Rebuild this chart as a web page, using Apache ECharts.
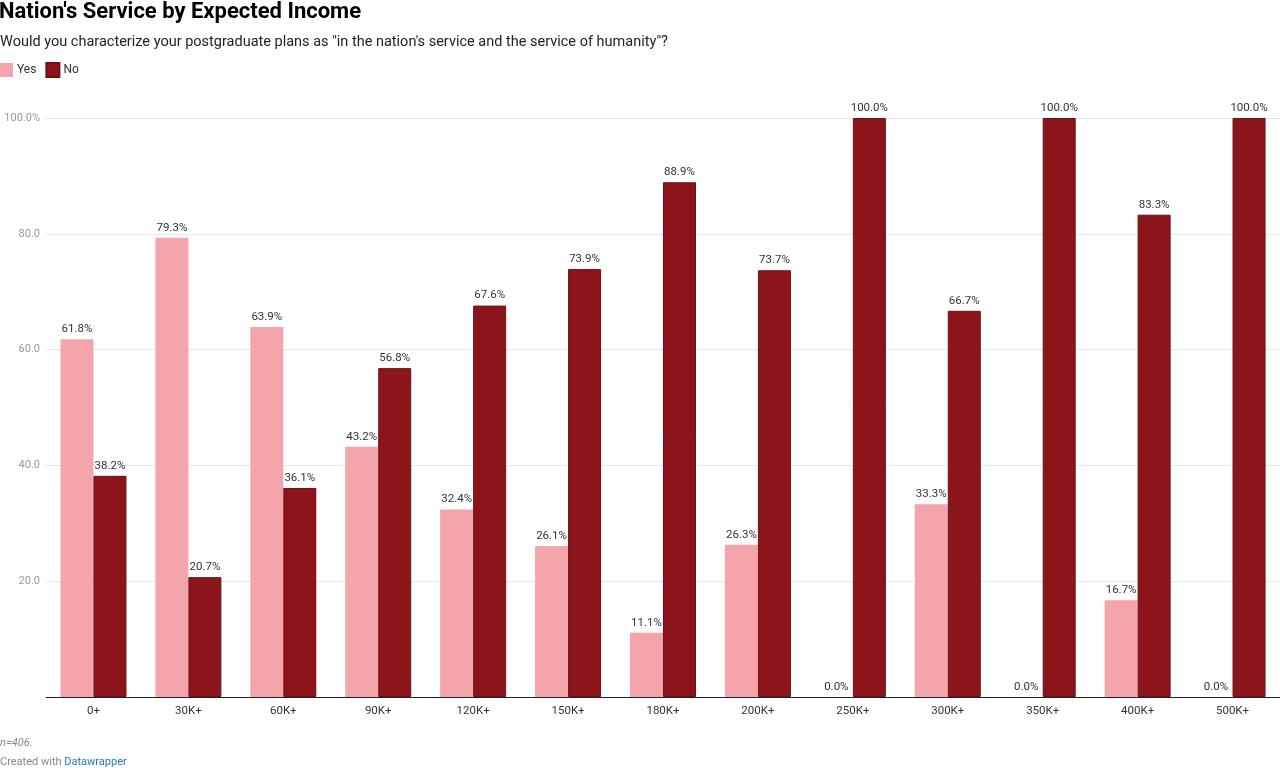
<!DOCTYPE html>
<html><head><meta charset="utf-8">
<script src="https://cdn.jsdelivr.net/npm/echarts@6/dist/echarts.min.js"></script>
<style>html,body{margin:0;padding:0;background:#fff}#c{width:1280px;height:768px}</style>
</head><body><div id="c"></div>
<script>
const categories = ['0+','30K+','60K+','90K+','120K+','150K+','180K+','200K+','250K+','300K+','350K+','400K+','500K+'];
const yesValues = [61.8, 79.3, 63.9, 43.2, 32.4, 26.1, 11.1, 26.3, 0, 33.3, 0, 16.7, 0];
const noValues = [38.2, 20.7, 36.1, 56.8, 67.6, 73.9, 88.9, 73.7, 100, 66.7, 100, 83.3, 100];
const yTicks = [0, 20, 40, 60, 80, 100];

const chart = echarts.init(document.getElementById('c'), null, {renderer:'canvas'});
const font = 'Roboto, "Liberation Sans", sans-serif';
const lbl = {show:true, position:'top', distance:4, color:'#333', fontSize:11.5, fontFamily:font,
  formatter: p => p.value.toFixed(1) + '%'};
chart.setOption({
  animation:false,
  textStyle:{fontFamily:font},
  title:[
    {text:"Nation's Service by Expected Income", left:-1, top:1, padding:0,
     textStyle:{fontSize:22, fontWeight:'bold', color:'#000', fontFamily:font}},
    {text:'Would you characterize your postgraduate plans as "in the nation\'s service and the service of humanity"?', left:0, top:35, padding:0,
     textStyle:{fontSize:14.5, fontWeight:'normal', color:'#222', fontFamily:font}},
    {text:'n=406.', left:0, top:738, padding:0, textStyle:{fontSize:11, fontStyle:'italic', fontWeight:'normal', color:'#888', fontFamily:font}},
    {text:'Created with {b|Datawrapper}', left:0, top:757, padding:0, textStyle:{fontSize:11, fontWeight:'normal', color:'#888', fontFamily:font,
      rich:{b:{color:'#1d81a2', fontSize:11, fontFamily:font}}}}
  ],
  legend:{left:0, top:62, padding:0, itemWidth:13, itemHeight:14, itemGap:9, icon:'rect',
    textStyle:{fontSize:12, color:'#333', fontFamily:font, padding:[0,0,0,-1]},
    data:['Yes','No']},
  grid:{left:46, right:0, top:118, bottom:71, containLabel:false},
  xAxis:{type:'category', data:categories,
    axisLine:{lineStyle:{color:'#222', width:1}}, axisTick:{show:false},
    axisLabel:{color:'#333', fontSize:11.5, margin:8, fontFamily:font}},
  yAxis:{type:'value', min:0, max:100, interval:20,
    splitLine:{lineStyle:{color:'#e6e6e6'}}, axisLine:{show:false}, axisTick:{show:false},
    axisLabel:{color:'#999', fontSize:11, margin:6, fontFamily:font, verticalAlign:'middle',
      formatter: v => v === 100 ? '100.0%' : (v === 0 ? '' : v.toFixed(1))}},
  series:[
    {name:'Yes', type:'bar', data:yesValues, barWidth:33, barGap:'0%',
     itemStyle:{color:'#f4a5ab'}, label:lbl},
    {name:'No', type:'bar', data:noValues, barWidth:33, barGap:'0%',
     itemStyle:{color:'#8c151b', borderColor:'#6f1015', borderWidth:1}, label:lbl}
  ]
});
</script></body></html>
